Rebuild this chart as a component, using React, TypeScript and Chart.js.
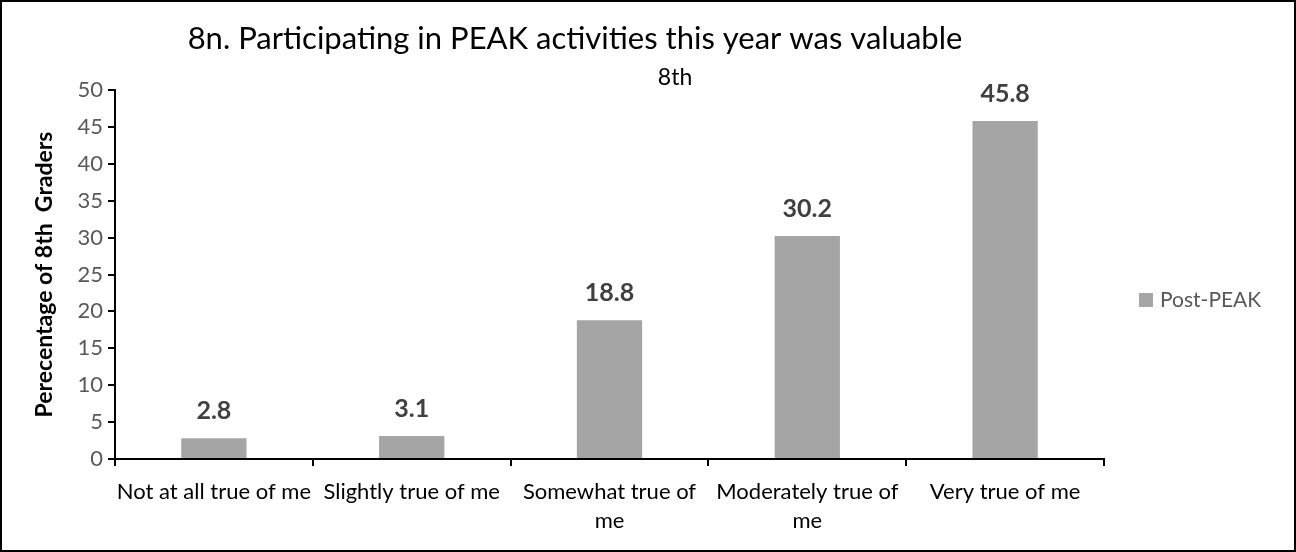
import React, { useEffect, useRef } from "react";
import { Chart, registerables } from "chart.js";

Chart.register(...registerables);

// ---- data ----
const categories: string[][] = [
  ["Not at all true of me"],
  ["Slightly true of me"],
  ["Somewhat true of", "me"],
  ["Moderately true of", "me"],
  ["Very true of me"],
];
const postPeakValues: number[] = [2.8, 3.1, 18.8, 30.2, 45.8];
const seriesName = "Post-PEAK";
const titleText = "8n. Participating in PEAK activities this year was valuable";
const subtitleText = "8th";
const yAxisTitle = "Perecentage of 8th  Graders";
const yMin = 0;
const yMax = 50;
const yStep = 5;

const FONT = "Lato, 'Open Sans', sans-serif";
const BAR_COLOR = "#A5A5A5";
const W = 1292;
const H = 548;
const PLOT_LEFT = 113;
const PLOT_RIGHT = 1102;
const PLOT_TOP = 88;
const PLOT_BOTTOM = 457;

const overlayPlugin = {
  id: "overlay",
  afterDatasetsDraw(chart: any) {
    const ctx: CanvasRenderingContext2D = chart.ctx;
    ctx.save();
    // data labels
    const meta = chart.getDatasetMeta(0);
    const data = chart.data.datasets[0].data as number[];
    ctx.font = `bold 25px ${FONT}`;
    ctx.fillStyle = "#404040";
    ctx.textAlign = "center";
    ctx.textBaseline = "middle";
    meta.data.forEach((bar: any, i: number) => {
      ctx.fillText(Number(data[i]).toFixed(1), bar.x, bar.y - 27);
    });
    // title
    ctx.fillStyle = "#000000";
    ctx.font = `31px ${FONT}`;
    ctx.fillText(titleText, 573, 37);
    ctx.font = `23px ${FONT}`;
    ctx.fillText(subtitleText, 673, 76);
    // legend
    const ds = chart.data.datasets[0];
    ctx.fillStyle = ds.backgroundColor as string;
    ctx.fillRect(1137, 291, 14, 14);
    ctx.fillStyle = "#595959";
    ctx.font = `21px ${FONT}`;
    ctx.textAlign = "left";
    ctx.fillText(ds.label, 1158, 298);
    ctx.restore();
  },
};

export default function App() {
  const ref = useRef<HTMLCanvasElement | null>(null);
  useEffect(() => {
    if (!ref.current) return;
    const chart = new Chart(ref.current, {
      type: "bar",
      data: {
        labels: categories,
        datasets: [
          {
            label: seriesName,
            data: postPeakValues,
            backgroundColor: BAR_COLOR,
            borderWidth: 0,
            barPercentage: 0.33,
            categoryPercentage: 1,
          },
        ],
      },
      options: {
        responsive: false,
        animation: false,
        devicePixelRatio: 1,
        layout: {
          padding: { left: 0, top: PLOT_TOP, right: W - PLOT_RIGHT, bottom: 0 },
        },
        plugins: {
          legend: { display: false },
          title: { display: false },
          tooltip: { enabled: false },
        },
        scales: {
          x: {
            type: "category",
            offset: true,
            grid: {
              display: true,
              drawOnChartArea: false,
              drawTicks: true,
              tickLength: 7,
              color: "#000000",
              lineWidth: 2,
              offset: true,
            },
            border: { display: true, color: "#000000", width: 2 },
            ticks: {
              color: "#000000",
              font: { family: FONT, size: 22, lineHeight: 1.32 },
              padding: 11,
              maxRotation: 0,
              minRotation: 0,
              autoSkip: false,
            },
            afterFit(scale: any) {
              scale.height = H - PLOT_BOTTOM;
            },
          },
          y: {
            min: yMin,
            max: yMax,
            grid: {
              display: true,
              drawOnChartArea: false,
              drawTicks: true,
              tickLength: 7,
              color: "#000000",
              lineWidth: 2,
            },
            border: { display: true, color: "#000000", width: 2 },
            ticks: {
              stepSize: yStep,
              color: "#595959",
              font: { family: FONT, size: 22 },
              padding: 5,
            },
            title: {
              display: true,
              text: yAxisTitle,
              color: "#000000",
              font: { family: FONT, size: 23, weight: "bold", lineHeight: 1.2 },
              padding: { top: 29, bottom: 0 },
            },
            afterFit(scale: any) {
              scale.width = PLOT_LEFT;
            },
          },
        },
      },
      plugins: [overlayPlugin],
    });
    return () => chart.destroy();
  }, []);

  return (
    <div
      style={{
        position: "fixed",
        left: 0,
        top: 0,
        width: 1296,
        height: 552,
        border: "2px solid #000",
        boxSizing: "border-box",
        background: "#fff",
      }}
    >
      <canvas ref={ref} width={W} height={H} style={{ display: "block", width: W, height: H }} />
    </div>
  );
}
